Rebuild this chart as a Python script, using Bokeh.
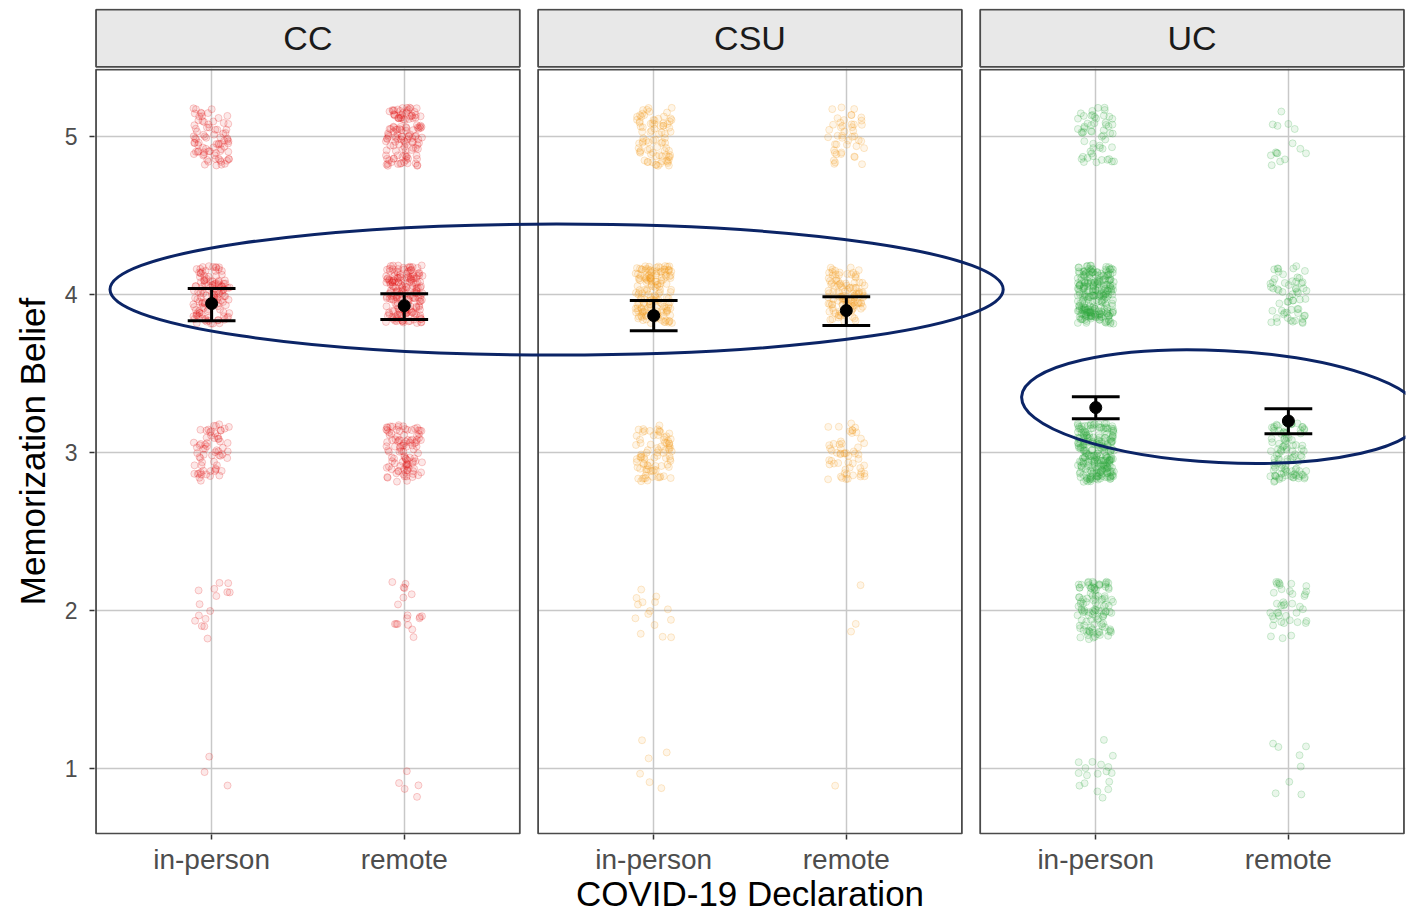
from bokeh.plotting import figure
from bokeh.layouts import column
from bokeh.models import ColumnDataSource, FactorRange, Range1d, FixedTicker
from bokeh.transform import jitter
from bokeh.core.properties import value
from bokeh.embed import file_html
from bokeh.resources import INLINE

# ---------------- data ----------------
groups = ["CC", "CSU", "UC"]
conditions = ["in-person", "remote"]
group_colors = ["#E41A1C", "#F39C1F", "#2EAA3F"]
levels = [5, 4, 3, 2, 1]
y_ticks = [1, 2, 3, 4, 5]

# approximate number of responses at each belief level (5, 4, 3, 2, 1)
counts_CC_inperson = [80, 130, 65, 15, 3]
counts_CC_remote = [125, 190, 105, 18, 5]
counts_CSU_inperson = [85, 160, 85, 15, 6]
counts_CSU_remote = [45, 115, 55, 3, 1]
counts_UC_inperson = [55, 255, 240, 110, 18]
counts_UC_remote = [15, 60, 100, 40, 8]

# group means with error bars (order: CC in/rem, CSU in/rem, UC in/rem)
means = [3.943, 3.930, 3.867, 3.899, 3.285, 3.200]
err_low = [3.835, 3.842, 3.772, 3.804, 3.215, 3.120]
err_high = [4.038, 4.006, 3.962, 3.987, 3.354, 3.278]

counts = {
    ("CC", "in-person"): counts_CC_inperson,
    ("CC", "remote"): counts_CC_remote,
    ("CSU", "in-person"): counts_CSU_inperson,
    ("CSU", "remote"): counts_CSU_remote,
    ("UC", "in-person"): counts_UC_inperson,
    ("UC", "remote"): counts_UC_remote,
}

FONT = "Liberation Sans"
NAVY = "#0b2466"
BORDER = "#4a4a4a"
W = 1415
LEFT, RIGHT = 94, 10
PAD = 0.6          # half extent of a panel beyond its outer categories

factors = [(g, c) for g in groups for c in conditions]
x_range = FactorRange(*factors, factor_padding=0.0, group_padding=0.295,
                      range_padding=0.108, range_padding_units="absolute")
lefts = [(g, "in-person", -PAD) for g in groups]
rights = [(g, "remote", PAD) for g in groups]

# ================= strip row (facet titles) =================
s = figure(width=W, height=68, x_range=x_range, y_range=Range1d(-0.03, 1.02),
           output_backend="svg", toolbar_location=None,
           x_axis_location=None, y_axis_location=None,
           min_border_left=LEFT, min_border_right=RIGHT,
           min_border_top=8, min_border_bottom=0)
s.outline_line_color = None
s.xgrid.visible = False
s.ygrid.visible = False
s.quad(left=lefts, right=rights, bottom=[0.0] * 3, top=[1.0] * 3,
       fill_color="#e8e8e8", line_color=BORDER, line_width=1.8)
s.text(x=groups, y=[0.5] * 3, text=groups,
       text_align="center", text_baseline="middle",
       text_font=value(FONT), text_font_size="34px", text_color="#1a1a1a")

# ================= panels =================
PANEL_TOP = 5.424
PANEL_BOTTOM = 0.589
p = figure(width=W, height=915 - 68, x_range=x_range,
           y_range=Range1d(0.583, 5.431),
           output_backend="svg", toolbar_location=None,
           min_border_left=LEFT, min_border_right=RIGHT, min_border_top=0,
           min_border_bottom=0)
p.outline_line_color = None
p.background_fill_color = "white"
p.border_fill_color = "white"

# ---- grid ----
p.xgrid.grid_line_color = "#c8c8c8"
p.xgrid.grid_line_width = 1.5
p.ygrid.grid_line_color = "#c8c8c8"
p.ygrid.grid_line_width = 1.5
p.ygrid.ticker = FixedTicker(ticks=y_ticks)

# ---- axes ----
p.yaxis.ticker = FixedTicker(ticks=y_ticks)
p.yaxis.axis_line_color = None
p.yaxis.major_tick_line_color = "#333333"
p.yaxis.major_tick_line_width = 1.5
p.yaxis.major_tick_out = 5
p.yaxis.major_tick_in = 0
p.yaxis.minor_tick_line_color = None
p.yaxis.major_label_text_font = FONT
p.yaxis.major_label_text_font_size = "23px"
p.yaxis.major_label_text_color = "#4d4d4d"
p.yaxis.major_label_standoff = 12
p.yaxis.axis_label = "Memorization Belief"
p.yaxis.axis_label_text_font = FONT
p.yaxis.axis_label_text_font_size = "35px"
p.yaxis.axis_label_text_font_style = "normal"
p.yaxis.axis_label_text_color = "#000000"
p.yaxis.axis_label_standoff = 10

p.xaxis.axis_line_color = None
p.xaxis.major_tick_line_color = "#333333"
p.xaxis.major_tick_line_width = 1.5
p.xaxis.major_tick_out = 5
p.xaxis.major_tick_in = 0
p.xaxis.major_label_text_font = FONT
p.xaxis.major_label_text_font_size = "28px"
p.xaxis.major_label_text_color = "#4d4d4d"
p.xaxis.major_label_standoff = 4
p.xaxis.group_text_font_size = "1px"
p.xaxis.group_text_color = None
p.xaxis.separator_line_color = None
p.xaxis.axis_label = "COVID-19 Declaration"
p.xaxis.axis_label_text_font = FONT
p.xaxis.axis_label_text_font_size = "35px"
p.xaxis.axis_label_text_font_style = "normal"
p.xaxis.axis_label_text_color = "#000000"
p.xaxis.axis_label_standoff = -4

# ---- white gaps between panels (hide the grid lines there) ----
p.quad(left=[("CC", "remote", PAD), ("CSU", "remote", PAD)],
       right=[("CSU", "in-person", -PAD), ("UC", "in-person", -PAD)],
       bottom=[0.5, 0.5], top=[6.0, 6.0],
       fill_color="white", line_color=None)

# ---- jittered responses ----
px, py, pc = [], [], []
for gi, g in enumerate(groups):
    for c in conditions:
        for lev, n in zip(levels, counts[(g, c)]):
            px += [(g, c)] * n
            py += [lev] * n
            pc += [group_colors[gi]] * n
pts = ColumnDataSource(data=dict(x=px, y=py, color=pc))
p.scatter(x=jitter("x", width=0.19, range=p.x_range),
          y=jitter("y", width=0.37), source=pts, size=7,
          fill_color="color", fill_alpha=0.1,
          line_color="color", line_alpha=0.22, line_width=1)

# ---- means and error bars ----
CAP = 0.124
src_m = ColumnDataSource(data=dict(
    x=factors, y=means, lo=err_low, hi=err_high,
    xl=[(g, c, -CAP) for g, c in factors],
    xr=[(g, c, CAP) for g, c in factors]))
p.segment(x0="x", x1="x", y0="lo", y1="hi", source=src_m,
          line_color="black", line_width=3)
p.segment(x0="xl", x1="xr", y0="lo", y1="lo", source=src_m,
          line_color="black", line_width=3)
p.segment(x0="xl", x1="xr", y0="hi", y1="hi", source=src_m,
          line_color="black", line_width=3)
p.scatter(x="x", y="y", source=src_m, size=12, color="black")

# ---- panel borders ----
p.quad(left=lefts, right=rights, bottom=[PANEL_BOTTOM] * 3, top=[PANEL_TOP] * 3,
       fill_color=None, line_color=BORDER, line_width=1.8)

# ---- hand-drawn highlight ellipses ----
p.ellipse(x=[("CSU", "in-person", -0.504)], y=[4.032], width=4.637, height=0.829,
          fill_color=None, line_color=NAVY, line_width=3)
p.ellipse(x=[("UC", "in-person", 0.654)], y=[3.291], width=2.08, height=0.709,
          angle=-0.05, fill_color=None, line_color=NAVY, line_width=3)

layout = column(s, p, spacing=0)
open("out.html", "w").write(file_html(layout, INLINE))
